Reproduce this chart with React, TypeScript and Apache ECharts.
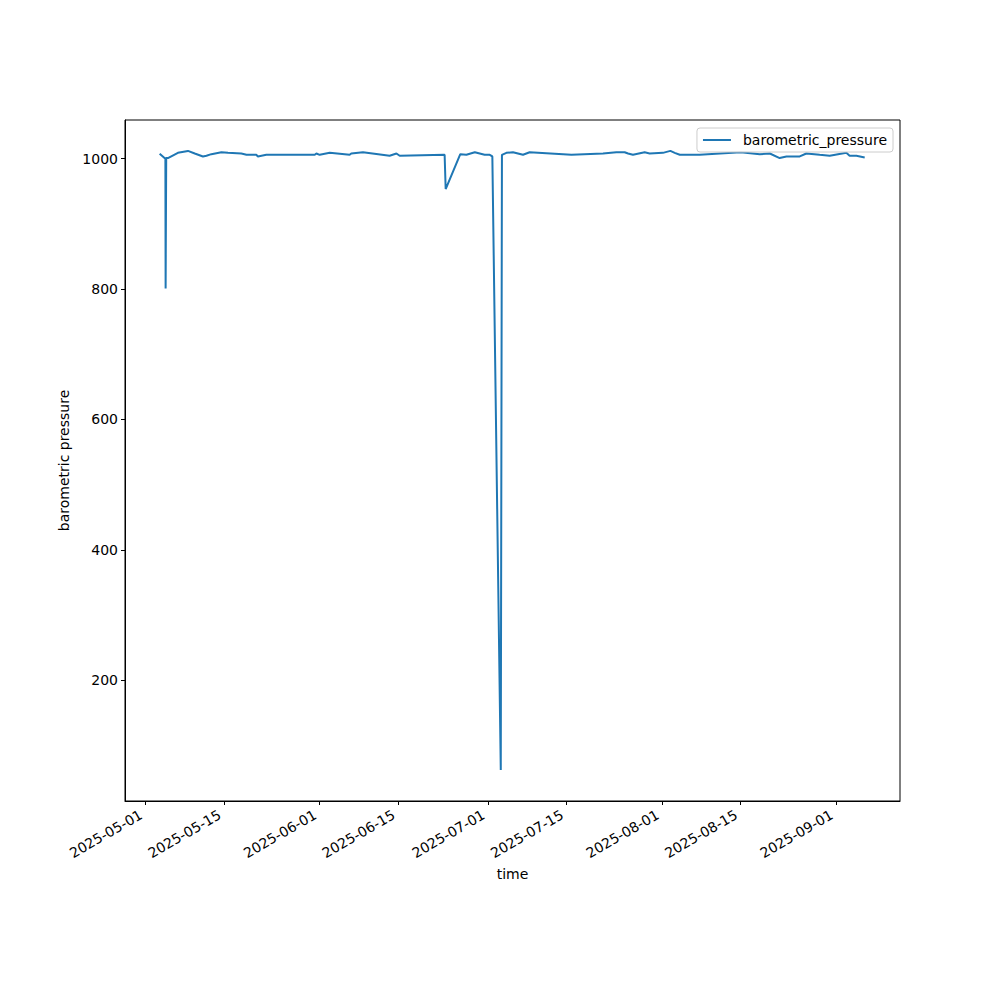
import React, { useEffect, useRef } from "react";
import * as echarts from "echarts";

const times: string[] = [
  "2025-05-03T13:00", "2025-05-04T13:30", "2025-05-04T14:30", "2025-05-04T17:00",
  "2025-05-05T00:30", "2025-05-06T19:00", "2025-05-08T14:00", "2025-05-09T19:00",
  "2025-05-11T06:00", "2025-05-11T21:00", "2025-05-12T18:00", "2025-05-14T13:00",
  "2025-05-15T17:00", "2025-05-18T02:00", "2025-05-19T00:00", "2025-05-20T18:00",
  "2025-05-21T01:00", "2025-05-22T13:00", "2025-05-31T04:00", "2025-05-31T11:00",
  "2025-06-01T01:00", "2025-06-02T20:00", "2025-06-06T09:00", "2025-06-06T16:00",
  "2025-06-08T18:00", "2025-06-13T12:00", "2025-06-14T17:00", "2025-06-15T07:00",
  "2025-06-23T07:00", "2025-06-23T11:30", "2025-06-26T02:00", "2025-06-27T04:00",
  "2025-06-28T16:00", "2025-06-29T13:00", "2025-06-30T10:00", "2025-07-01T08:00",
  "2025-07-01T19:00", "2025-07-03T07:00", "2025-07-03T12:00", "2025-07-04T07:00",
  "2025-07-05T11:00", "2025-07-07T06:00", "2025-07-08T10:30", "2025-07-15T21:00",
  "2025-07-21T12:00", "2025-07-23T21:00", "2025-07-25T08:30", "2025-07-25T23:00",
  "2025-07-26T20:00", "2025-07-28T22:00", "2025-07-29T19:30", "2025-08-01T04:00",
  "2025-08-02T12:00", "2025-08-03T06:30", "2025-08-04T04:00", "2025-08-07T17:00",
  "2025-08-15T00:30", "2025-08-18T10:00", "2025-08-20T05:00", "2025-08-21T23:00",
  "2025-08-23T04:00", "2025-08-25T13:00", "2025-08-26T17:00", "2025-08-29T02:00",
  "2025-08-30T21:00", "2025-09-02T20:00", "2025-09-03T10:00", "2025-09-04T15:00",
  "2025-09-06T02:30",
];

const pressure: number[] = [
  1007.7, 1000, 801, 1001,
  1001, 1009, 1012, 1008,
  1003.5, 1004.6, 1007, 1010,
  1009, 1008, 1006, 1006,
  1003.5, 1006, 1006, 1008,
  1006, 1009, 1006, 1008,
  1010, 1004.6, 1008, 1004.6,
  1006, 953.5, 1007, 1006,
  1010, 1008, 1006, 1006,
  1003.5, 62, 1006, 1009,
  1010, 1006, 1010, 1006,
  1008, 1010, 1010, 1008,
  1006, 1010, 1008, 1009,
  1012, 1009, 1006, 1006,
  1010, 1007, 1008, 1001,
  1003.5, 1003.5, 1008, 1006,
  1004.6, 1009, 1004.6, 1004.6,
  1002,
];

const xTickLabels: string[] = [
  "2025-05-01", "2025-05-15", "2025-06-01", "2025-06-15", "2025-07-01",
  "2025-07-15", "2025-08-01", "2025-08-15", "2025-09-01",
];
const yTicks: number[] = [200, 400, 600, 800, 1000];

const seriesName = "barometric_pressure";
const xName = "time";
const yName = "barometric pressure";

const toTs = (s: string) => Date.parse(s.length === 10 ? s + "T00:00:00Z" : s + ":00Z");

export default function App() {
  const ref = useRef<HTMLDivElement>(null);
  useEffect(() => {
    if (!ref.current) return;
    const chart = echarts.init(ref.current, undefined, { renderer: "svg" });
    const data = times.map((t, i) => [toTs(t), pressure[i]]);
    const xTickVals = xTickLabels.map(toTs);
    const font = "DejaVu Sans";
    chart.setOption({
      animation: false,
      textStyle: { fontFamily: font },
      grid: {
        left: 125,
        right: 100,
        top: 120,
        bottom: 199,
        show: true,
        borderColor: "#000",
        borderWidth: 1,
        containLabel: false,
      },
      legend: {
        show: true,
        right: 107,
        top: 128,
        orient: "vertical",
        data: [{ name: seriesName, icon: "path://M0,0 L28,0 L28,2 L0,2 Z" }],
        itemWidth: 28,
        itemHeight: 2,
        itemGap: 0,
        padding: [5, 6, 5, 6],
        borderColor: "#cccccc",
        borderWidth: 1,
        borderRadius: 3,
        backgroundColor: "rgba(255,255,255,0.8)",
        textStyle: { fontFamily: font, fontSize: 14, color: "#000", padding: [0, 0, 0, 7] },
      },
      xAxis: {
        type: "value",
        min: toTs("2025-04-27T08:53"),
        max: toTs("2025-09-12T09:22"),
        name: xName,
        nameLocation: "middle",
        nameGap: 65,
        nameTextStyle: { fontFamily: font, fontSize: 14, color: "#000" },
        axisLine: { show: true, lineStyle: { color: "#000", width: 1 } },
        axisTick: {
          show: true,
          inside: false,
          length: 4,
          customValues: xTickVals,
          lineStyle: { color: "#000", width: 1 },
        },
        axisLabel: {
          show: true,
          rotate: 30,
          customValues: xTickVals,
          formatter: (v: number) => {
            const d = new Date(v);
            const mm = String(d.getUTCMonth() + 1).padStart(2, "0");
            const dd = String(d.getUTCDate()).padStart(2, "0");
            return `${d.getUTCFullYear()}-${mm}-${dd}`;
          },
          fontFamily: font,
          fontSize: 14,
          color: "#000",
          margin: 10,
          padding: [0, 5, 0, 0],
          hideOverlap: false,
        },
        splitLine: { show: false },
      },
      yAxis: {
        type: "value",
        min: 14.6,
        max: 1059.4,
        name: yName,
        nameLocation: "middle",
        nameGap: 46,
        nameTextStyle: { fontFamily: font, fontSize: 14, color: "#000" },
        axisLine: { show: true, lineStyle: { color: "#000", width: 1 } },
        axisTick: {
          show: true,
          inside: false,
          length: 4,
          customValues: yTicks,
          lineStyle: { color: "#000", width: 1 },
        },
        axisLabel: {
          show: true,
          customValues: yTicks,
          formatter: (v: number) => String(v),
          fontFamily: font,
          fontSize: 14,
          color: "#000",
          margin: 7,
        },
        splitLine: { show: false },
      },
      series: [
        {
          name: seriesName,
          type: "line",
          data,
          showSymbol: false,
          symbol: "none",
          lineStyle: { color: "#1f77b4", width: 2 },
          itemStyle: { color: "#1f77b4" },
        },
      ],
    });
    return () => chart.dispose();
  }, []);
  return (
    <div
      ref={ref}
      style={{ position: "absolute", left: 0, top: 0, width: 1000, height: 1000, background: "#fff" }}
    />
  );
}
